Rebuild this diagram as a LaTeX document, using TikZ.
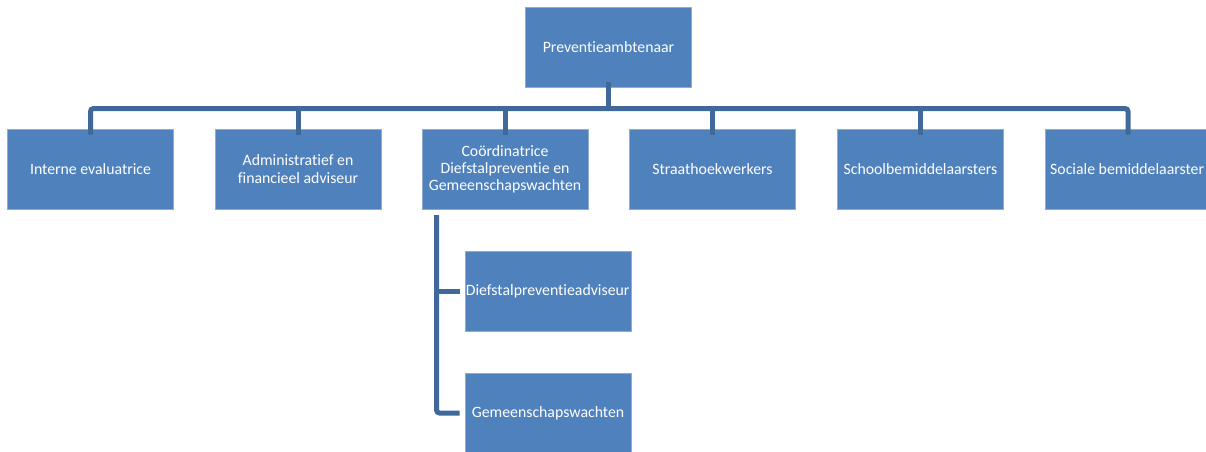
\documentclass[tikz,border=0pt]{standalone}
\usepackage{fontspec}
\setmainfont{Carlito}[Ligatures={NoCommon}]
\definecolor{boxfill}{HTML}{4F81BD}
\definecolor{boxline}{HTML}{8EABD3}
\definecolor{conn}{HTML}{41689A}
\begin{document}
\begin{tikzpicture}[x=1pt,y=-1pt,
  orgbox/.style={draw=boxline, line width=0.8pt, fill=boxfill, text=white,
    minimum width=166pt, minimum height=80pt, inner sep=1pt, align=center,
    font=\fontsize{15.8}{17.2}\selectfont},
  boxtext/.style={text=white, font=\fontsize{15.8}{17.2}\selectfont, anchor=west, inner sep=0pt},
  link/.style={draw=conn, line width=5pt, rounded corners=3pt}]
\useasboundingbox (0,0) rectangle (1206,451);
\begin{scope}
\clip (0,0) rectangle (1206,451);
\node[orgbox] (top) at (608.5,47.5) {Preventieambtenaar};
\node[orgbox] (b1) at (90.5,169) {Interne evaluatrice};
\node[orgbox] (b2) at (298,169) {Administratief en\\financieel adviseur};
\node[orgbox] (b3) at (505,169) {Coördinatrice\\Diefstalpreventie en\\Gemeenschapswachten};
\node[orgbox] (b4) at (712.5,169) {Straathoekwerkers};
\node[orgbox] (b5) at (920.5,169) {Schoolbemiddelaarsters};
\node[orgbox] (b6) at (1128,169) {};
\node[boxtext] (b6t) at (1050,169) {Sociale bemiddelaarster};
\node[orgbox] (c1) at (548,291) {};
\node[orgbox] (c2) at (548,413) {Gemeenschapswachten};
\begin{scope}
\clip (c1.south west) rectangle (c1.north east);
\node[boxtext] (c1t) at ([xshift=1pt]c1.west) {Diefstalpreventieadviseur};
\end{scope}
\coordinate (bar) at (608.5,108.5);
\path[link] ([yshift=6pt]top.south) -- (bar);
\path[link] ([yshift=-6pt]b1.north) |- (bar) -| ([yshift=-6pt]b6.north);
\path[link] ([yshift=-6pt]b2.north) -- (b2.north |- bar);
\path[link] ([yshift=-6pt]b3.north) -- (b3.north |- bar);
\path[link] ([yshift=-6pt]b4.north) -- (b4.north |- bar);
\path[link] ([yshift=-6pt]b5.north) -- (b5.north |- bar);
\coordinate (v) at (436.5,215);
\path[link] (v) |- ([xshift=-5pt]c2.west);
\path[draw=conn, line width=5pt] (v |- c1.west) -- ([xshift=-5pt]c1.west);
\end{scope}
\end{tikzpicture}
\end{document}
